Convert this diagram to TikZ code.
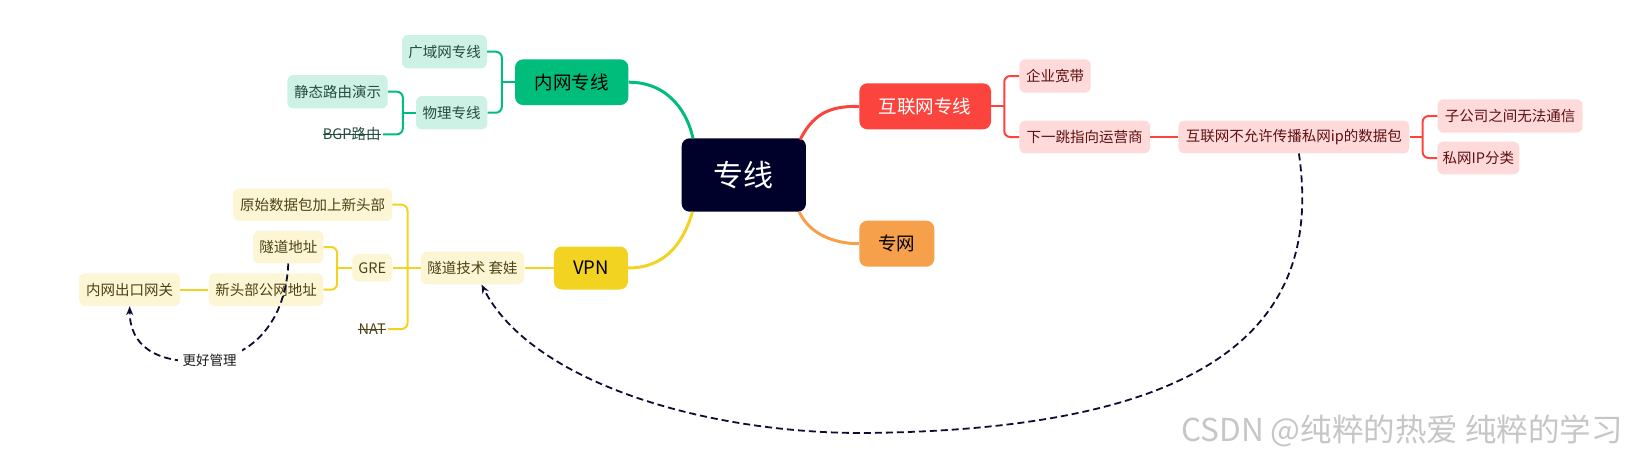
\documentclass[tikz,border=0pt]{standalone}
\usepackage{fontspec}
\setmainfont{Noto Sans CJK SC}
\usetikzlibrary{calc,arrows.meta}
\definecolor{navy}{HTML}{00012B}
\definecolor{gmain}{HTML}{00BD7B}
\definecolor{glight}{HTML}{CDF2E5}
\definecolor{gtext}{HTML}{244C3F}
\definecolor{rmain}{HTML}{FC443E}
\definecolor{rlight}{HTML}{FFDADA}
\definecolor{rtext}{HTML}{5E1010}
\definecolor{ymain}{HTML}{F3D321}
\definecolor{ylight}{HTML}{FDF6D5}
\definecolor{ytext}{HTML}{4D4214}
\definecolor{omain}{HTML}{F6A04B}
\definecolor{dcol}{HTML}{0C0C35}
\definecolor{wmark}{HTML}{C6C6C6}
\begin{document}
\begin{tikzpicture}[x=1pt,y=-1pt,
  box/.style={rounded corners=6pt, inner sep=0pt, align=center, font=\fontsize{14.5}{16}\selectfont},
  mainbox/.style={rounded corners=8pt, inner sep=0pt, align=center, font=\fontsize{18.5}{20}\selectfont},
  gch/.style={box, fill=glight, text=gtext},
  rch/.style={box, fill=rlight, text=rtext},
  ych/.style={box, fill=ylight, text=ytext},
  plain/.style={inner sep=2pt, font=\fontsize{14.5}{16}\selectfont},
  gline/.style={draw=gmain, line width=2pt},
  rline/.style={draw=rmain, line width=2pt},
  yline/.style={draw=ymain, line width=2pt},
  thick3/.style={line width=3pt},
  rnd/.style={rounded corners=6pt},
  strk/.style={line width=1pt},
  dline/.style={draw=dcol, line width=1.8pt, dash pattern=on 7pt off 4pt, -{Stealth[length=9pt,width=7pt]}}
]
\useasboundingbox (0,0) rectangle (1629,460);

% central
\node[mainbox, fill=navy, text=white, minimum width=124.3, minimum height=73.4,
      font=\fontsize{30}{32}\selectfont] (zx) at (743.8,175) {专线};

% green branch
\node[mainbox, fill=gmain, text=black, minimum width=113.3, minimum height=45.7] (nw) at (571.7,82.2) {内网专线};
\node[gch, minimum width=85, minimum height=33.3] (gy) at (444.5,51.7) {广域网专线};
\node[gch, minimum width=71.3, minimum height=33.3] (wl) at (451.7,112.7) {物理专线};
\node[gch, minimum width=100.4, minimum height=33.3] (jt) at (337.5,91.7) {静态路由演示};
\node[plain, text=gtext] (bgp) at (351.7,134.3) {BGP路由};

% red branch
\node[mainbox, fill=rmain, text=white, minimum width=131.7, minimum height=46] (hl) at (925.2,106.3) {互联网专线};
\node[rch, minimum width=71.4, minimum height=33.4] (qy) at (1055,76) {企业宽带};
\node[rch, minimum width=130.7, minimum height=32.6] (xy) at (1084.7,137) {下一跳指向运营商};
\node[rch, minimum width=231, minimum height=32.6] (hb) at (1293.9,137) {互联网不允许传播私网ip的数据包};
\node[rch, minimum width=145, minimum height=33.4] (zg) at (1510,116) {子公司之间无法通信};
\node[rch, minimum width=82, minimum height=32.6] (sw) at (1478.4,158) {私网IP分类};

% orange
\node[mainbox, fill=omain, text=black, minimum width=75, minimum height=46] (zw) at (896.8,243.7) {专网};

% yellow branch
\node[mainbox, fill=ymain, text=black, minimum width=74, minimum height=43] (vpn) at (590.9,268) {VPN};
\node[ych, minimum width=103.6, minimum height=32.6] (sd) at (472.5,268) {隧道技术 套娃};
\node[ych, minimum width=159, minimum height=32.6] (ys) at (312.7,204.7) {原始数据包加上新头部};
\node[ych, minimum width=40, minimum height=27.7] (gre) at (372.3,267.8) {GRE};
\node[plain, text=ytext] (nat) at (372.2,329) {NAT};
\node[ych, minimum width=70.3, minimum height=32.6] (sddz) at (288.3,247) {隧道地址};
\node[ych, minimum width=114.7, minimum height=32.6] (xtb) at (266,289.7) {新头部公网地址};
\node[ych, minimum width=101, minimum height=32.6] (nwck) at (129.7,289.7) {内网出口网关};

% strike-through for box-less topics
\draw[strk, draw=gtext] ($(bgp.west)+(2,0)$) -- ($(bgp.east)+(-2,0)$);
\draw[strk, draw=ytext] ($(nat.west)+(2,0)$) -- ($(nat.east)+(-2,0)$);

% main curves
\draw[gmain, thick3] ($(zx.north west)+(11.5,0)$) .. controls +(-5,-23) and +(42,0) .. (nw.east);
\draw[rmain, thick3] ($(zx.north east)+(-6,1.5)$) .. controls +(15,-30) and +(-24,0) .. (hl.west);
\draw[ymain, thick3] ($(zx.south west)+(11,0)$) .. controls +(-12.7,43) and +(27,0) .. (vpn.east);
\draw[omain, thick3] ($(zx.south east)+(-7,0)$) .. controls +(11,23) and +(-24,0) .. (zw.west);

% green brackets
\coordinate (bn) at ($(nw.west)+(-13,0)$);
\draw[gline] (nw.west) -- (bn);
\draw[gline, rnd] (gy.east) -| (bn) |- (wl.east);
\coordinate (bw) at ($(wl.west)+(-13,0)$);
\draw[gline] (wl.west) -- (bw);
\draw[gline, rnd] (jt.east) -| (bw) |- (bgp.east);

% red brackets
\coordinate (br) at ($(hl.east)+(13,0)$);
\draw[rline] (hl.east) -- (br);
\draw[rline, rnd] (qy.west) -| (br) |- (xy.west);
\draw[rline] (xy.east) -- (hb.west);
\coordinate (bh) at ($(hb.east)+(13,0)$);
\draw[rline] (hb.east) -- (bh);
\draw[rline, rnd] (zg.west) -| (bh) |- (sw.west);

% yellow brackets
\draw[yline] (vpn.west) -- (sd.east);
\coordinate (bs) at ($(sd.west)+(-13,0)$);
\draw[yline] (sd.west) -- (bs);
\draw[yline, rnd] (ys.east) -| (bs) |- (nat.east);
\draw[yline] (gre.east) -- (gre.east -| bs);
\coordinate (bg) at ($(gre.west)+(-15,0)$);
\draw[yline] (gre.west) -- (bg);
\draw[yline, rnd] (sddz.east) -| (bg) |- (xtb.east);
\draw[yline] (xtb.west) -- (nwck.east);

% dashed relations
\draw[dline] ($(hb.south)+(5,0)$) .. controls (1320,300) and (1250,430) .. (862,433)
   .. controls (700,433) and (530,380) .. ($(sd.south)+(9,0)$);
\draw[dline] (sddz.south) .. controls (286,318) and (255,358) .. (205,361)
   .. controls (155,364) and (129.7,345) .. (nwck.south);
\node[fill=white, inner sep=5pt, text=black!90, font=\fontsize{13.5}{15}\selectfont] (gl) at (209.5,360) {更好管理};

% watermark
\node[anchor=east, inner sep=0pt, text=wmark, font=\fontsize{31.5}{33}\selectfont] (wm) at (1623,431) {CSDN @纯粹的热爱 纯粹的学习};
\end{tikzpicture}
\end{document}
